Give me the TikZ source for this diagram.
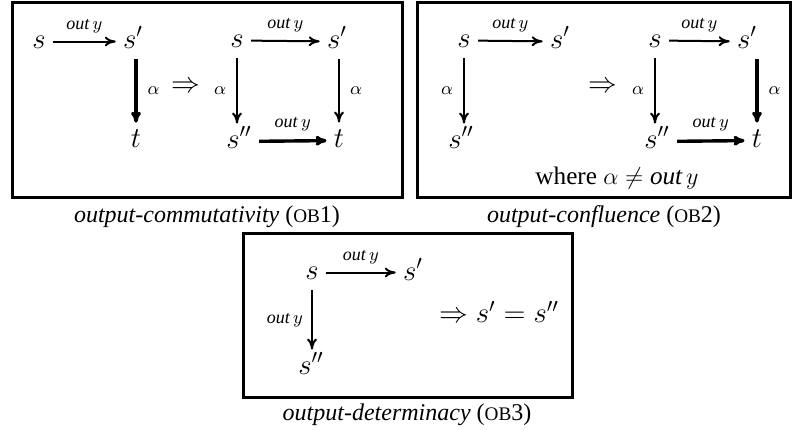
\documentclass[tikz,border=0pt]{standalone}
\usepackage{amsmath}
\usepackage{amssymb}
\usepackage{fontspec}
\setmainfont{Liberation Serif}
\usepackage{tikz}
\usetikzlibrary{
  arrows.meta,  % To 箭头
  positioning   % 标签相对定位
}
\tikzset{
  state/.style={
    anchor=base,
    inner sep=3.5pt,
    text height=8.5pt,
    text depth=2pt,
    font=\fontsize{14}{16}\selectfont
  },
  trans/.style={
    -{To[length=5.5pt,width=5pt]},
    line width=1pt
  },
  weak trans/.style={
    -{To[length=5.5pt,width=5pt]},
    line width=1.7pt
  },
  act label/.style={
    font=\fontsize{9}{11}\selectfont,
    inner sep=1pt
  },
  frame box/.style={
    line width=1.5pt
  },
  rule name/.style={
    anchor=base,
    font=\fontsize{12}{14}\selectfont
  }
}
\newcommand{\outlab}{\textit{out}\,$y$}
\newcommand{\obrule}[1]{({\fontsize{9.6}{12}\selectfont OB}#1)}

\begin{document}
\begin{tikzpicture}[x=0.5pt, y=-0.5pt]

  % 0. 画布大小
  \useasboundingbox (0,0) rectangle (793,429);

  % 1. 三个外框
  \draw[frame box] (12,2) rectangle (402,197);
  \draw[frame box] (417,2) rectangle (790,197);
  \draw[frame box] (243,233) rectangle (572,397);

  % 2. OB1 左图
  \node[state] (ca)  at (39,48)  {$s$};
  \node[state] (cb)  at (133,48) {$s'$};
  \node[state] (cc)  at (136,147) {$t$};
  \draw[trans] (ca) -- (cb) node[midway, above=3pt, act label] {\outlab};
  \draw[weak trans] (cb.south -| cc) -- (cc) node[midway, right=4pt, act label] {$\alpha$};
  \node[state, anchor=center] (cimp) at (186,86) {$\Rightarrow$};

  % OB1 右图
  \node[state] (cs)  at (237,47)  {$s$};
  \node[state] (cs1) at (337,48)  {$s'$};
  \node[state] (cs2) at (239,148) {$s''$};
  \node[state] (ct)  at (339,147) {$t$};
  \draw[trans] (cs) -- (cs1) node[midway, above=3pt, act label] {\outlab};
  \draw[trans] (cs) -- (cs |- cs2.north) node[midway, left=4pt, act label] {$\alpha$};
  \draw[trans] (cs1.south -| ct) -- (ct) node[midway, right=4pt, act label] {$\alpha$};
  \draw[weak trans] (cs2) -- (ct) node[midway, above=3pt, act label] {\outlab};

  % 3. OB2 左图
  \node[state] (fa)  at (464,47)  {$s$};
  \node[state] (fb)  at (560,48)  {$s'$};
  \node[state] (fc)  at (461,148) {$s''$};
  \draw[trans] (fa) -- (fb) node[midway, above=3pt, act label] {\outlab};
  \draw[trans] (fa) -- (fa |- fc.north) node[midway, left=4pt, act label] {$\alpha$};
  \node[state, anchor=center] (fimp) at (603,86) {$\Rightarrow$};

  % OB2 右图
  \node[state] (fs)  at (655,47)  {$s$};
  \node[state] (fs1) at (747,48)  {$s'$};
  \node[state] (fs2) at (657,148) {$s''$};
  \node[state] (ft)  at (757,147) {$t$};
  \draw[trans] (fs) -- (fs1) node[midway, above=3pt, act label] {\outlab};
  \draw[trans] (fs) -- (fs |- fs2.north) node[midway, left=4pt, act label] {$\alpha$};
  \draw[weak trans] (fs1.south -| ft) -- (ft) node[midway, right=4pt, act label] {$\alpha$};
  \draw[weak trans] (fs2) -- (ft) node[midway, above=3pt, act label] {\outlab};
  \node[rule name, font=\fontsize{12.6}{14}\selectfont] (fwhere) at (617,184) {where $\alpha \neq \textit{out}\,y$};

  % 4. OB3
  \node[state] (da)  at (312,279) {$s$};
  \node[state] (db)  at (413,280) {$s'$};
  \node[state] (dc)  at (311,374) {$s''$};
  \draw[trans] (da) -- (da.east -| db.west) node[midway, above=3pt, act label] {\outlab};
  \draw[trans] (da) -- (da |- dc.north) node[midway, left=3pt, act label] {\outlab};
  \node[state, anchor=center] (dimp) at (499,316) {$\Rightarrow s' = s''$};

  % 5. 规则名称
  \node[rule name] (ob1) at (207,222) {\textit{output-commutativity} \obrule{1}};
  \node[rule name] (ob2) at (604,222) {\textit{output-confluence} \obrule{2}};
  \node[rule name] (ob3) at (407,420) {\textit{output-determinacy} \obrule{3}};

\end{tikzpicture}
\end{document}
